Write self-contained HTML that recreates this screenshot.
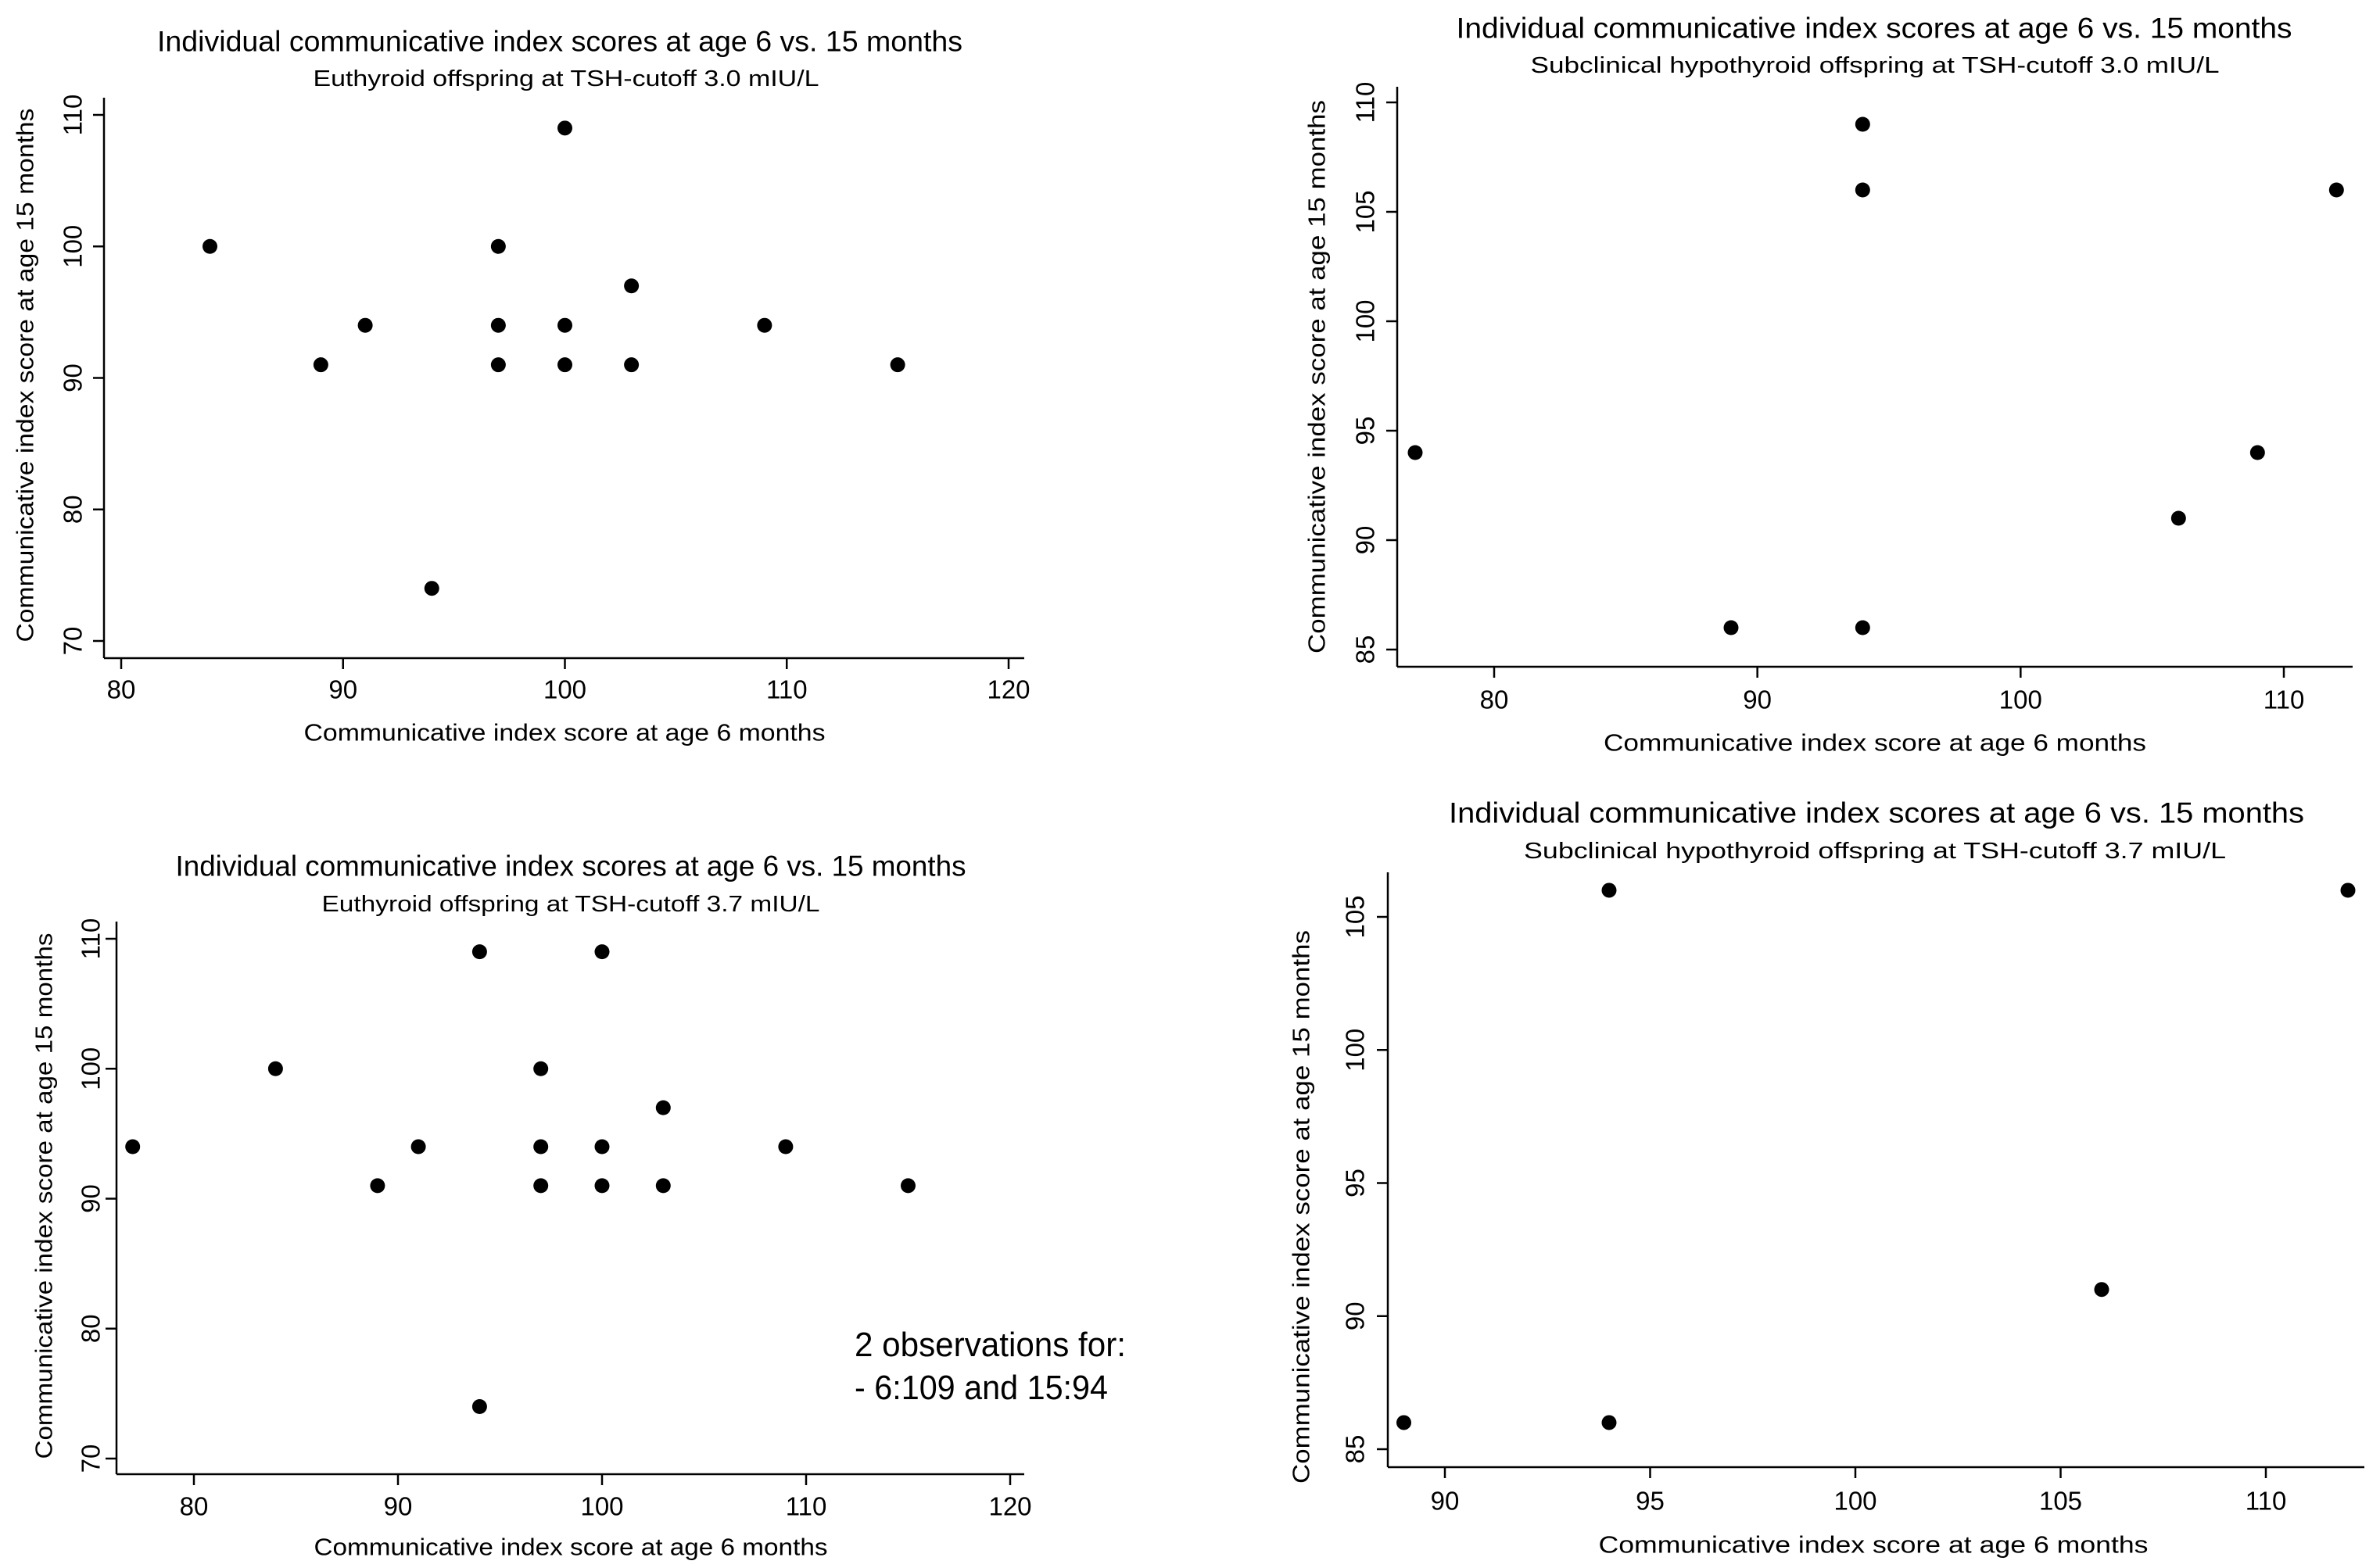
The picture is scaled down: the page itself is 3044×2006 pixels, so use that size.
<!DOCTYPE html>
<html><head><meta charset="utf-8"><style>
html,body{margin:0;padding:0;background:#fff}
svg{display:block}
text{font-family:"Liberation Sans",Arial,sans-serif;fill:#000}
</style></head><body>
<svg id="chart" width="3044" height="2006" viewBox="0 0 3044 2006" xmlns="http://www.w3.org/2000/svg"></svg>
<script>
// Panel 1: Euthyroid TSH 3.0
const p1X = [84,89,91,94,97,97,97,100,100,100,103,103,109,115];
const p1Y = [100,91,94,74,100,94,91,109,94,91,97,91,94,91];
const p1XTicks = [80,90,100,110,120];
const p1YTicks = [70,80,90,100,110];
// Panel 2: Subclinical TSH 3.0
const p2X = [77,89,94,94,94,106,109,112];
const p2Y = [94,86,86,106,109,91,94,106];
const p2XTicks = [80,90,100,110];
const p2YTicks = [85,90,95,100,105,110];
// Panel 3: Euthyroid TSH 3.7
const p3X = [77,84,89,91,94,94,97,97,97,100,100,100,103,103,109,115];
const p3Y = [94,100,91,94,109,74,100,94,91,109,94,91,97,91,94,91];
const p3XTicks = [80,90,100,110,120];
const p3YTicks = [70,80,90,100,110];
// Panel 4: Subclinical TSH 3.7
const p4X = [89,94,94,106,112];
const p4Y = [86,86,106,91,106];
const p4XTicks = [90,95,100,105,110];
const p4YTicks = [85,90,95,100,105];

const svg = document.getElementById('chart');
const NS = 'http://www.w3.org/2000/svg';
function mk(tag, attrs, parent){const e=document.createElementNS(NS,tag);for(const k in attrs)e.setAttribute(k,attrs[k]);(parent||svg).appendChild(e);return e;}

const title = 'Individual communicative index scores at age 6 vs. 15 months';
const xlab = 'Communicative index score at age 6 months';
const ylab = 'Communicative index score at age 15 months';

function panel(cfg){
  const g = mk('g',{});
  
  
  const sx = v => cfg.x0px + (v-cfg.x0v)*(cfg.x1px-cfg.x0px)/(cfg.x1v-cfg.x0v);
  const sy = v => cfg.y0px + (v-cfg.y0v)*(cfg.y1px-cfg.y0px)/(cfg.y1v-cfg.y0v);
  // titles
  const t = mk('text',{x:cfg.tcx,y:cfg.ty,'font-size':37,'text-anchor':'middle','dominant-baseline':'central',textLength:cfg.tw,lengthAdjust:'spacingAndGlyphs'},g);
  t.textContent = title;
  
  
  const st = mk('text',{x:cfg.scx,y:cfg.sty,'font-size':29,'text-anchor':'middle','dominant-baseline':'central',textLength:cfg.sw,lengthAdjust:'spacingAndGlyphs'},g);
  st.textContent = cfg.sub;
  
  
  // axes
  const xa = mk('line',{x1:cfg.ax,y1:cfg.ay,x2:cfg.axr,y2:cfg.ay,stroke:'#000','stroke-width':2.5},g);
  
  
  const ya = mk('line',{x1:cfg.ax,y1:cfg.ay,x2:cfg.ax,y2:cfg.aytop,stroke:'#000','stroke-width':2.5},g);
  
  
  cfg.xt.forEach(v=>{
    const x=sx(v);
    const tk=mk('line',{x1:x,y1:cfg.ay,x2:x,y2:cfg.ay+14,stroke:'#000','stroke-width':2.5},g);
    
    
    const lb=mk('text',{x:x,y:cfg.xty,'font-size':33,'text-anchor':'middle','dominant-baseline':'central'},g);
    lb.textContent=v;
    
    
  });
  cfg.yt.forEach(v=>{
    const y=sy(v);
    const tk=mk('line',{x1:cfg.ax-14,y1:y,x2:cfg.ax,y2:y,stroke:'#000','stroke-width':2.5},g);
    
    
    const lb=mk('text',{x:0,y:0,'font-size':33,'text-anchor':'middle','dominant-baseline':'central',transform:`translate(${cfg.ytx},${y}) rotate(-90)`},g);
    lb.textContent=v;
    
    
  });
  const xl = mk('text',{x:cfg.xlx,y:cfg.xly,'font-size':31,'text-anchor':'middle','dominant-baseline':'central',textLength:cfg.xlw,lengthAdjust:'spacingAndGlyphs'},g);
  xl.textContent = xlab;
  
  
  const yl = mk('text',{x:0,y:0,'font-size':31,'text-anchor':'middle','dominant-baseline':'central',textLength:cfg.ylw,lengthAdjust:'spacingAndGlyphs',transform:`translate(${cfg.ylx},${cfg.ylc}) rotate(-90)`},g);
  yl.textContent = ylab;
  
  
  cfg.xs.forEach((v,i)=>{
    const c=mk('circle',{cx:sx(v),cy:sy(cfg.ys[i]),r:9.5,fill:'#000'},g);
    
    
  });
}

panel({name:'panel-euthyroid-3-0',sub:'Euthyroid offspring at TSH-cutoff 3.0 mIU/L',xs:p1X,ys:p1Y,xt:p1XTicks,yt:p1YTicks,
  x0v:80,x1v:120,x0px:155,x1px:1290,y0v:70,y1v:110,y0px:820,y1px:147,
  ax:133,ay:842,axr:1310,aytop:125,tcx:716,ty:53,tw:1030,scx:724,sty:101,sw:647,
  xty:882,ytx:93,xlx:722,xly:937,xlw:667,ylx:32,ylc:480,ylw:683});
panel({name:'panel-subclinical-3-0',sub:'Subclinical hypothyroid offspring at TSH-cutoff 3.0 mIU/L',xs:p2X,ys:p2Y,xt:p2XTicks,yt:p2YTicks,
  x0v:80,x1v:110,x0px:1911,x1px:2921,y0v:85,y1v:110,y0px:831,y1px:131,
  ax:1787,ay:853,axr:3009,aytop:111,tcx:2397,ty:36,tw:1069,scx:2398,sty:84,sw:881,
  xty:895,ytx:1746,xlx:2398,xly:950,xlw:694,ylx:1684,ylc:482,ylw:708});
panel({name:'panel-euthyroid-3-7',sub:'Euthyroid offspring at TSH-cutoff 3.7 mIU/L',xs:p3X,ys:p3Y,xt:p3XTicks,yt:p3YTicks,
  x0v:80,x1v:120,x0px:248,x1px:1292,y0v:70,y1v:110,y0px:1866,y1px:1201,
  ax:149,ay:1886,axr:1310,aytop:1179,tcx:730,ty:1108,tw:1011,scx:730,sty:1157,sw:637,
  xty:1927,ytx:116,xlx:730,xly:1979,xlw:657,ylx:56,ylc:1530,ylw:673});
panel({name:'panel-subclinical-3-7',sub:'Subclinical hypothyroid offspring at TSH-cutoff 3.7 mIU/L',xs:p4X,ys:p4Y,xt:p4XTicks,yt:p4YTicks,
  x0v:90,x1v:110,x0px:1848,x1px:2898,y0v:85,y1v:105,y0px:1854,y1px:1173,
  ax:1775,ay:1877,axr:3024,aytop:1116,tcx:2400,ty:1040,tw:1094,scx:2398,sty:1089,sw:898,
  xty:1920,ytx:1733,xlx:2396,xly:1976,xlw:703,ylx:1664,ylc:1544,ylw:708});

const n1 = mk('text',{x:1093,y:1735,'font-size':44,textLength:347,lengthAdjust:'spacingAndGlyphs'});
n1.textContent='2 observations for:';


const n2 = mk('text',{x:1093,y:1790,'font-size':44,textLength:324,lengthAdjust:'spacingAndGlyphs'});
n2.textContent='- 6:109 and 15:94';


</script>
</body></html>
